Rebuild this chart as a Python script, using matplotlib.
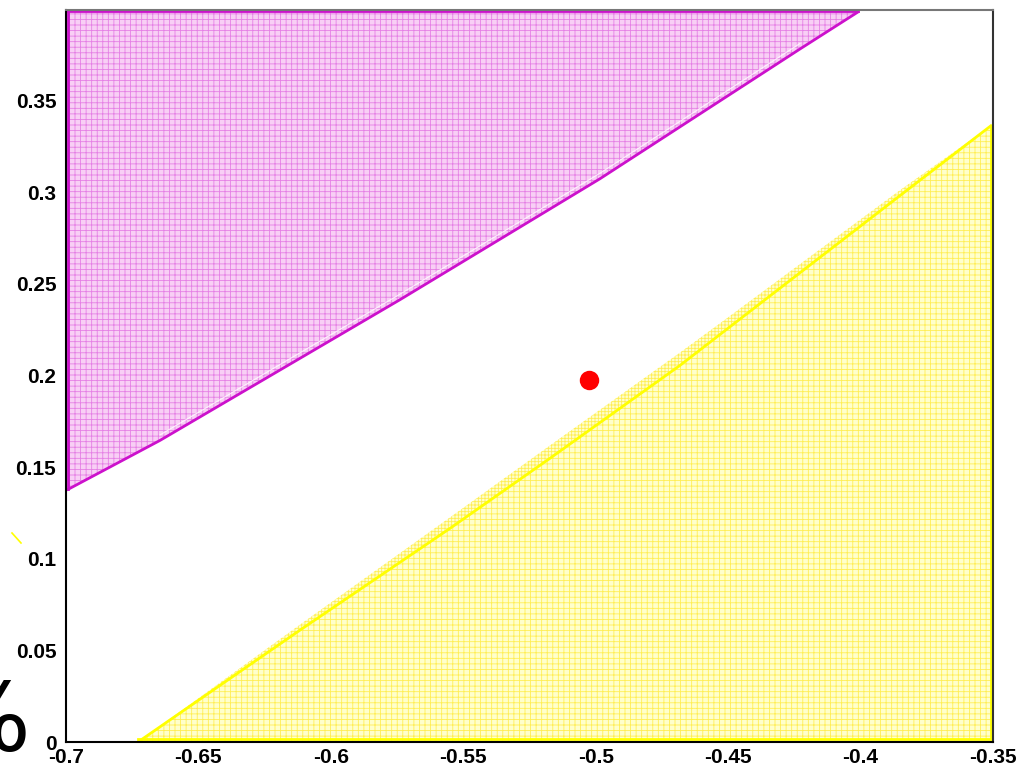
import matplotlib
matplotlib.use("Agg")
import matplotlib.pyplot as plt
import numpy as np
from matplotlib.lines import Line2D

plt.rcParams['font.family'] = ['Liberation Sans', 'DejaVu Sans']
plt.rcParams['hatch.linewidth'] = 0.6

# Data
upper_x = [-0.6992, -0.6645, -0.6388, -0.5739, -0.4984, -0.4229, -0.4010]
upper_y = [0.1379, 0.1646, 0.1864, 0.2414, 0.3074, 0.3782, 0.3984]

lower_x = [-0.6728, -0.6117, -0.5550, -0.5173, -0.4682, -0.4512, -0.3852, -0.3508]
lower_y = [0.0000, 0.0610, 0.1166, 0.1548, 0.2055, 0.2245, 0.2981, 0.3363]
band_off = [0.0, 0.003, 0.006, 0.007, 0.007, 0.006, 0.003, 0.0]

point_x = [-0.5025]
point_y = [0.1973]

xticks = [-0.7, -0.65, -0.6, -0.55, -0.5, -0.45, -0.4, -0.35]
xticklabels = ['-0.7', '-0.65', '-0.6', '-0.55', '-0.5', '-0.45', '-0.4', '-0.35']
yticks = [0, 0.05, 0.1, 0.15, 0.2, 0.25, 0.3, 0.35]
yticklabels = ['0', '0.05', '0.1', '0.15', '0.2', '0.25', '0.3', '0.35']

x_min, x_max = -0.7, -0.35
y_min, y_max = 0.0, 0.3995

fig = plt.figure(figsize=(10.19, 7.70), dpi=100)
ax = fig.add_axes([66/1019, 28/770, 927/1019, 732/770])

mag_line = '#cc11cc'
mag_hatch = '#e580e5'
mag_face = '#f8cff5'
yel_line = '#ffff00'
yel_hatch = '#ffee55'
yel_face = '#ffffcc'

# magenta region (upper-left)
px = [upper_x[0]] + upper_x + [upper_x[0]]
py = [y_max] + upper_y + [y_max]
ax.fill(px, py, facecolor=mag_face, edgecolor=mag_hatch, hatch='+++', linewidth=0)
ax.plot(upper_x, upper_y, color=mag_line, lw=2)
ax.plot([upper_x[0], upper_x[0]], [upper_y[0], y_max], color=mag_line, lw=2)
ax.plot([upper_x[0], upper_x[-1]], [y_max - 0.0006, y_max - 0.0006], color=mag_line, lw=2)
ax.plot(upper_x[1:-1], np.array(upper_y[1:-1]) + 0.003, color='white', lw=0.8, alpha=0.8)

# yellow region (lower-right)
bottom = 0.0015
band_y = np.array(lower_y) + np.array(band_off)
ax.fill_between(lower_x, lower_y, band_y, facecolor=yel_face, edgecolor=yel_hatch,
                hatch='+++++', linewidth=0)
qx = lower_x + [lower_x[-1]]
qy = lower_y + [bottom]
ax.fill(qx, qy, facecolor=yel_face, edgecolor=yel_hatch, hatch='+++', linewidth=0)
ax.plot(lower_x, lower_y, color=yel_line, lw=2)
ax.plot([lower_x[-1], lower_x[-1]], [lower_y[-1], bottom], color=yel_line, lw=2)
ax.plot([lower_x[0], lower_x[-1]], [bottom, bottom], color=yel_line, lw=2)

# red point
ax.plot(point_x, point_y, 'o', color='#ff0000', markersize=14, markeredgewidth=0)

ax.set_xlim(x_min, x_max)
ax.set_ylim(y_min, y_max)
ax.set_xticks(xticks)
ax.set_xticklabels(xticklabels)
ax.set_yticks(yticks)
ax.set_yticklabels(yticklabels)
ax.tick_params(axis='both', length=0, labelsize=15)
ax.tick_params(axis='x', pad=4)
ax.tick_params(axis='y', pad=7)
for lab in ax.get_xticklabels() + ax.get_yticklabels():
    lab.set_fontweight('bold')

ax.spines['left'].set_color('black')
ax.spines['bottom'].set_color('black')
ax.spines['top'].set_color('#777777')
ax.spines['right'].set_color('#333333')
for s in ax.spines.values():
    s.set_linewidth(1.5)

# clipped y label glyph and stray legend stroke
fig.text(31/1019, 19/770, '%', fontsize=68, ha='right', va='baseline', color='black',
         family=['DejaVu Sans'])
fig.add_artist(Line2D([12/1019, 21/1019], [1 - 533/770, 1 - 543/770], color=yel_line, lw=1.2))

fig.savefig('out.png', dpi=100)
